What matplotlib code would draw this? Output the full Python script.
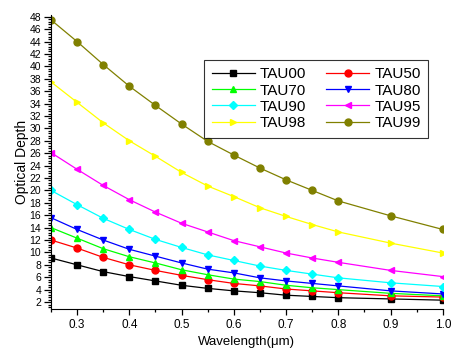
import matplotlib
matplotlib.use("Agg")
import matplotlib.pyplot as plt
from matplotlib.ticker import MultipleLocator

plt.rcParams["font.family"] = ["Liberation Sans", "DejaVu Sans"]

wavelength = [0.25, 0.3, 0.35, 0.4, 0.45, 0.5, 0.55, 0.6, 0.65, 0.7, 0.75, 0.8, 0.9, 1.0]

tau00 = [9.1, 8.0, 6.9, 6.1, 5.4, 4.7, 4.2, 3.8, 3.5, 3.1, 2.9, 2.7, 2.5, 2.3]
tau50 = [12.0, 10.7, 9.2, 8.0, 7.1, 6.3, 5.6, 5.0, 4.6, 4.1, 3.8, 3.5, 3.0, 2.8]
tau70 = [14.0, 12.3, 10.6, 9.3, 8.3, 7.2, 6.4, 5.7, 5.3, 4.7, 4.3, 4.0, 3.4, 3.0]
tau80 = [15.6, 13.7, 12.0, 10.5, 9.4, 8.3, 7.3, 6.7, 5.9, 5.4, 5.0, 4.6, 3.8, 3.3]
tau90 = [20.0, 17.7, 15.5, 13.7, 12.1, 10.8, 9.6, 8.7, 7.8, 7.1, 6.5, 5.9, 5.1, 4.5]
tau95 = [26.1, 23.4, 20.8, 18.5, 16.5, 14.7, 13.3, 11.9, 10.9, 9.9, 9.1, 8.4, 7.1, 6.1]
tau98 = [37.5, 34.2, 30.9, 28.0, 25.5, 22.9, 20.7, 19.0, 17.2, 15.8, 14.5, 13.3, 11.5, 9.9]
tau99 = [47.5, 44.0, 40.3, 36.8, 33.7, 30.7, 27.9, 25.7, 23.6, 21.7, 20.0, 18.3, 15.9, 13.7]

series = [
    ("TAU00", tau00, "black", "s"),
    ("TAU50", tau50, "red", "o"),
    ("TAU70", tau70, "#00ff00", "^"),
    ("TAU80", tau80, "blue", "v"),
    ("TAU90", tau90, "cyan", "D"),
    ("TAU95", tau95, "magenta", "<"),
    ("TAU98", tau98, "yellow", ">"),
    ("TAU99", tau99, "#808000", "o"),
]

fig = plt.figure(figsize=(4.51, 3.55), dpi=100)
ax = fig.add_axes([0.113, 0.13, 0.869, 0.828])

lines = {}
for name, vals, color, marker in series:
    ms = 5 if marker != "D" else 4.5
    lines[name], = ax.plot(wavelength, vals, color=color, marker=marker,
                           markersize=ms, linewidth=0.9, label=name)

ax.set_xlim(0.25, 1.0)
ax.set_ylim(0.9, 48.3)
ax.xaxis.set_major_locator(MultipleLocator(0.1))
ax.xaxis.set_minor_locator(MultipleLocator(0.05))
ax.yaxis.set_minor_locator(MultipleLocator(0.4))
ax.set_yticks(range(2, 49, 2))
ax.tick_params(axis="both", which="both", direction="out", width=0.9)
ax.tick_params(axis="x", which="major", length=4, labelsize=8.5, pad=3)
ax.tick_params(axis="y", which="major", length=5, labelsize=7.5, pad=2)
ax.tick_params(which="minor", length=2.5)
ax.spines["top"].set_visible(False)
ax.spines["right"].set_visible(False)

ax.set_xlabel("Wavelength(\u03bcm)", fontsize=9.5, labelpad=4)
ax.set_ylabel("Optical Depth", fontsize=10, labelpad=0)

# row-wise legend order: matplotlib fills columns first
names = [s[0] for s in series]
order = names[0::2] + names[1::2]
leg = ax.legend([lines[n] for n in order], order, ncol=2,
                loc="upper right", bbox_to_anchor=(0.963, 0.848),
                fontsize=11, frameon=True, fancybox=False, edgecolor="black",
                handlelength=2.8, columnspacing=1.3, labelspacing=0.15,
                borderpad=0.5, handletextpad=0.35, borderaxespad=0)
leg.get_frame().set_linewidth(0.8)

fig.savefig("out.png", dpi=100)
